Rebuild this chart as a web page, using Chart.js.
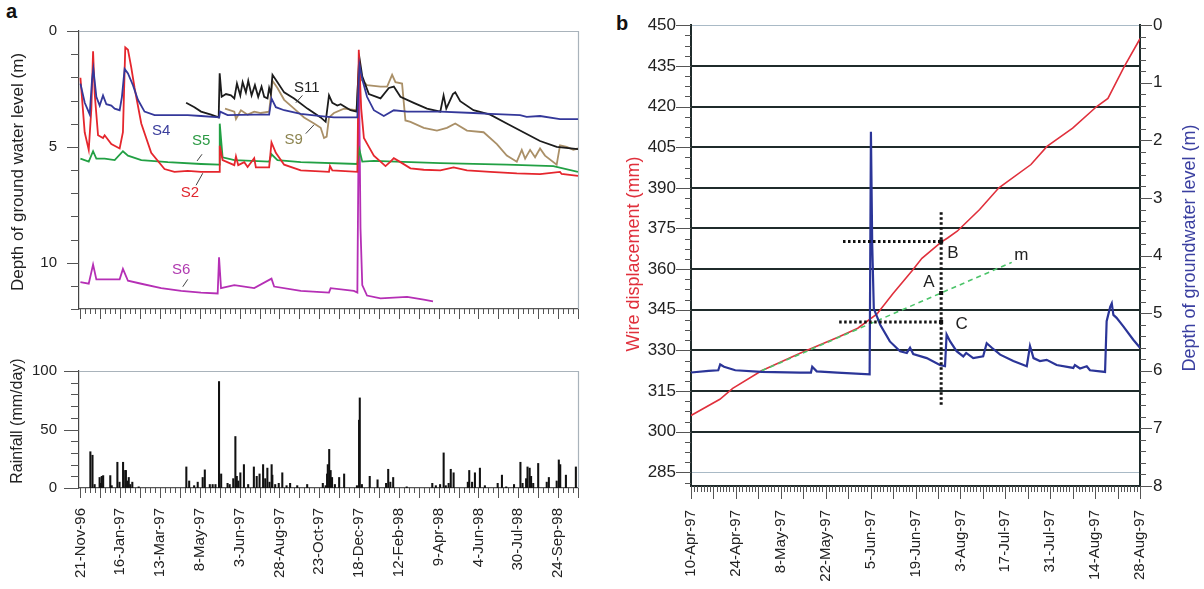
<!DOCTYPE html>
<html>
<head>
<meta charset="utf-8">
<script src="https://cdn.jsdelivr.net/npm/chart.js@4.4.1/dist/chart.umd.min.js"></script>
<style>
  body { margin: 0; background: #fff; width: 1204px; height: 589px; overflow: hidden; position: relative; font-family: "Liberation Sans", Arial, sans-serif; }
  canvas { position: absolute; }
  .panel { position: absolute; font-weight: bold; font-size: 20px; color: #111; }
</style>
</head>
<body>
<div class="panel" style="left:6px;top:0px">a</div>
<div class="panel" style="left:616px;top:12px">b</div>
<canvas id="gw" width="600" height="340" style="left:0;top:0"></canvas>
<canvas id="rain" width="600" height="249" style="left:0;top:340px"></canvas>
<canvas id="wire" width="604" height="589" style="left:600px;top:0"></canvas>
<script>
// ---- panel a: days counted from 21-Nov-96 ----
var dateLabelsA = ['21-Nov-96', '16-Jan-97', '13-Mar-97', '8-May-97', '3-Jun-97', '28-Aug-97', '23-Oct-97',
                   '18-Dec-97', '12-Feb-98', '9-Apr-98', '4-Jun-98', '30-Jul-98', '24-Sep-98'];
var dateDaysA = [0, 56, 112, 168, 224, 280, 336, 392, 448, 504, 560, 616, 672];

var s2Day = [0,6,11.7,15.4,17.8,20.1,24.8,31.8,34.1,43.5,55.2,59.8,63.1,66.9,71.5,76.2,85.6,99.6,118.3,132.3,151,169.7,195.2,196,200,216.5,218.8,222,230.5,235.2,244.5,246.8,265.5,268.8,274.9,286.6,310,349.7,351.1,354.4,389.6,391.6,395,398.8,405.8,412.8,422.2,429.2,436.2,440.9,450.2,464.3,483,506.3,525,543.8,576.5,613.9,646.6,674.7,677,700];
var s2Depth = [2.02,4.37,5.13,3.35,0.88,2.72,4.5,4.62,4.5,4.88,5.07,4.37,0.71,0.81,1.57,2.46,3.99,5.26,5.96,6.08,6.04,6.08,6.08,4.95,5.57,5.79,5.41,5.79,5.66,5.87,5.49,5.89,5.89,4.81,5.26,5.77,6.02,6.08,5.83,6.02,6.08,0.81,3.35,4.62,5.0,5.38,5.64,5.83,5.64,5.49,5.66,5.93,5.99,6.02,5.89,6.02,6.08,6.15,6.18,6.08,6.17,6.25];

var s4Day = [0,6.1,13.1,16.4,18.2,22.4,27.1,31.8,36.5,43.5,48.2,55.2,58.4,62.2,66.9,73.9,80.9,90.2,104.3,123,151,169.7,195.2,196.5,207.1,244.5,265.5,268.8,274.9,286.6,310,338,356.7,389.6,392.5,396.5,403.2,412.8,426.8,440.9,459.6,506.3,553,576.5,618.5,627.8,646.6,674.7,700];
var s4Depth = [2.27,3.1,3.6,2.08,1.64,2.84,3.22,2.78,3.16,3.22,3.35,3.42,2.84,1.64,1.83,2.34,2.97,3.48,3.63,3.63,3.63,3.67,3.73,3.48,3.63,3.61,3.61,2.91,3.29,3.42,3.58,3.67,3.73,3.73,1.45,2.08,2.84,3.42,3.67,3.42,3.48,3.48,3.54,3.58,3.63,3.71,3.67,3.8,3.8];

var s5Day = [0,11.7,17.8,22.4,34.1,48.2,59.8,66.9,85.6,123,169.7,195.2,196,200,216.5,265.5,268.8,277.2,310,389.6,392.5,396.5,412.8,506.3,599.8,665.3,700];
var s5Depth = [5.51,5.64,5.19,5.51,5.51,5.57,5.19,5.38,5.57,5.66,5.74,5.77,4.0,5.45,5.57,5.64,5.32,5.57,5.66,5.74,5.13,5.64,5.61,5.7,5.77,5.83,6.08];

var s6Day = [0,11.7,17.8,22.4,29.5,55.2,59.8,66.9,85.6,113.6,141.7,169.7,193.1,195,197.8,216.5,244.5,268.8,272.5,310,349.7,352,384.7,389.6,392,394,396.5,403.2,422.2,459.6,483,496];
var s6Depth = [10.84,10.91,10.08,10.72,10.72,10.72,10.27,10.78,10.91,11.1,11.22,11.29,11.33,9.77,11.1,10.97,11.1,10.69,11.03,11.22,11.29,11.1,11.22,11.29,2.1,8.5,10.97,11.42,11.54,11.48,11.6,11.67];

var s11Day = [148.7,160.4,169.7,183.7,194.5,195.9,198.7,204.8,211.8,216.5,220.2,224.9,228.2,232.8,236.1,240.8,245.5,250.1,254.8,258.5,263.2,265.5,267.9,270.2,277.2,286.6,300.6,319.3,338,345,349.7,354.4,361.4,366.1,373.1,380.1,388.5,391.8,392.7,396.5,405.8,422.2,433.9,440.9,450.2,468.9,487.6,506.3,510.9,514.7,524,527.3,534.3,553,576.5,599.8,623.2,646.6,670,700];
var s11Depth = [3.1,3.29,3.48,3.61,3.73,1.83,2.84,2.72,2.78,2.91,2.27,2.78,2.21,2.65,2.15,2.78,2.34,2.84,2.4,2.84,2.91,2.46,2.72,1.89,2.21,2.65,2.91,3.35,3.73,3.92,2.78,3.1,3.22,3.16,3.29,3.42,3.48,1.38,1.19,1.96,2.72,2.91,2.46,2.4,2.84,3.1,3.35,3.48,2.78,3.35,2.72,2.65,3.03,3.42,3.61,3.99,4.37,4.75,5.0,5.1];

var s9Day = [203.4,216.5,218.8,225.8,235.2,244.5,253.9,265.5,270.2,277.2,286.6,300.6,314.6,328.7,338,342.7,346.4,349.7,356.7,370.7,388.5,391.8,394.1,403.2,422.2,431.5,438.5,443.2,452.5,457.2,464.3,483,501.6,515.6,527.3,543.8,567.2,585.9,599.8,613.9,620.9,625.6,632.6,639.6,646.6,653.6,670,674.7,684.1,693.4,700];
var s9Depth = [3.35,3.48,3.8,3.42,3.61,3.48,3.54,3.48,2.15,2.46,2.97,3.35,3.73,3.99,4.18,4.62,4.56,3.73,3.54,3.35,3.42,1.45,2.08,2.34,2.4,2.4,1.89,2.21,2.27,3.86,3.92,4.18,4.3,4.18,3.99,4.3,4.37,4.88,5.38,5.64,5.13,5.51,5.13,5.45,5.07,5.38,5.77,4.94,5.0,5.13,5.07];

var rainDay = [14,17,20,27,29,30,32,42,44,52,55,60,63,64,66,68,70,73,82,149,153,160,165,172,175,182,186,190,195,198,207,210,215,218,220,222,225,230,236,244,248,252,257,260,263,266,269,270,274,279,284,290,295,305,319,341,345,347,348,350,352,354,358,364,371,389,392,393,396,407,418,430,433,436,440,459,495,500,506,511,514,518,521,525,545,547,551,555,562,569,587,593,599,610,619,622,627,629,632,634,637,644,656,659,670,673,675,683,697];
var rainMm = [31,28,3,9,4,10,10.6,10.6,2,22,5,22,15,15,6,9,3,5,1,18,6,2,5,9,15.5,3,3,3,91,12,4,3,8,44,10,6,13,20,3,18,10,12,20,8,17,5,20,11,3,4,13,2,4,2,3,4,2,12,20,33,15,9,3,9,12,2,58,77,3,10,7,4,16,5,9,1,4,2,3,30,2,4,16,13,5,15,5,13,17,2,4,11,1,3,22,4,8,18,17,10,4,21,5,9,6,24,20,11,18];

// tags on the groundwater plot: text position and leader line, in days / metres
var tagText = ['S4', 'S5', 'S2', 'S6', 'S11', 'S9'];
var tagDay = [113.6, 169.7, 154, 141.6, 318.4, 300];
var tagDepth = [4.3, 4.76, 6.97, 10.29, 2.44, 4.69];
var tagLead = [null, [171.1, 5.32, 164.1, 5.61], [162.7, 6.66, 172.1, 6.14], [151, 10.72, 144, 11.04],
               [312.3, 2.78, 303, 3.1], [317, 4.43, 328.6, 4.05]];
var tagColor = ['#3a3d9c', '#2c9a44', '#e0262e', '#b03ab0', '#222222', '#8c8450'];

// ---- panel b: days counted from 10-Apr-97 ----
var dateLabelsB = ['10-Apr-97', '24-Apr-97', '8-May-97', '22-May-97', '5-Jun-97', '19-Jun-97', '3-Aug-97',
                   '17-Jul-97', '31-Jul-97', '14-Aug-97', '28-Aug-97'];
var dateDaysB = [0, 14, 28, 42, 56, 70, 84, 98, 112, 126, 140];
var wireTicks = [285, 300, 315, 330, 345, 360, 375, 390, 405, 420, 435, 450];
var depthTicks = [0, 1, 2, 3, 4, 5, 6, 7, 8];

var wireDay = [0, 9, 13, 22, 34, 46, 52, 58, 63, 69, 72, 78, 80, 83, 90, 96, 106, 111, 119, 126.5, 130, 135, 140];
var wireMm = [306, 312, 316, 322.5, 329, 335, 338.2, 343.5, 351, 359.5, 364, 370, 371.5, 374, 382, 390, 398.6, 405.3, 412, 420, 423, 434.5, 445];

var gwDay = [0,5.5,8.5,9.1,10.3,13.8,22,34,37.4,37.8,39.2,45.6,55.7,56.1,56.5,57,59,62,65.2,67.3,68.3,69.3,73.5,77.6,79.2,79.7,80.8,82.8,84.9,85.8,88,91.1,92.2,93.8,96.4,100.5,104.7,105.7,106.8,108.8,110.9,114,119.2,119.7,121.3,123.4,124.4,129.1,129.6,130.7,131.2,131.7,132.7,134.8,137.9,140];
var gwDepth = [6.03,6.0,5.99,5.89,5.93,5.99,6.02,6.03,6.03,5.93,6.01,6.03,6.06,1.85,3.8,4.92,5.2,5.49,5.66,5.69,5.6,5.71,5.78,5.9,5.92,5.37,5.49,5.66,5.75,5.69,5.78,5.75,5.52,5.6,5.72,5.83,5.92,5.57,5.78,5.83,5.81,5.9,5.95,5.9,5.96,5.92,5.99,6.02,5.14,4.89,4.83,5.03,5.08,5.23,5.46,5.6];

var trendDay = [22, 100];
var trendMm = [322.5, 362.5];
var cutDay = 78;
var levelB = 370.2, levelA = 351.2, levelC = 340.5;
var markText = ['B', 'A', 'C', 'm'];
var markDay = [81.7, 74.2, 84.4, 103];
var markMm = [365.7, 355.3, 339.5, 365];

Chart.defaults.font.family = '"Liberation Sans", Arial, sans-serif';
Chart.defaults.color = '#222';

function pts(xs, ys) {
  return xs.map(function(x, i) { return { x: x, y: ys[i] }; });
}

function fixTicks(values) {
  return function(scale) { scale.ticks = values.map(function(v) { return { value: v }; }); };
}

// short tick marks pointing out of the plot area
function marks(chart, scale, from, to, step, len, color) {
  var ctx = chart.ctx, area = chart.chartArea;
  ctx.save();
  ctx.strokeStyle = color || '#555';
  ctx.lineWidth = 1;
  ctx.beginPath();
  for (var v = from; v <= to + 1e-6; v += step) {
    var p = Math.round(scale.getPixelForValue(v)) + 0.5;
    if (scale.isHorizontal()) {
      ctx.moveTo(p, area.bottom); ctx.lineTo(p, area.bottom + len);
    } else if (scale.position === 'left') {
      ctx.moveTo(area.left, p); ctx.lineTo(area.left - len, p);
    } else {
      ctx.moveTo(area.right, p); ctx.lineTo(area.right + len, p);
    }
  }
  ctx.stroke();
  ctx.restore();
}

function vtext(ctx, text, x, y, size, color) {
  ctx.save();
  ctx.translate(x, y);
  ctx.rotate(-Math.PI / 2);
  ctx.font = size + 'px "Liberation Sans", Arial, sans-serif';
  ctx.fillStyle = color;
  ctx.textAlign = 'center';
  ctx.textBaseline = 'middle';
  ctx.fillText(text, 0, 0);
  ctx.restore();
}

function lightFrame(chart) {
  var ctx = chart.ctx, a = chart.chartArea;
  ctx.save();
  ctx.strokeStyle = '#a9b3bb';
  ctx.lineWidth = 1.2;
  ctx.beginPath();
  ctx.moveTo(a.left, a.top + 0.5); ctx.lineTo(a.right + 0.5, a.top + 0.5); ctx.lineTo(a.right + 0.5, a.bottom);
  ctx.stroke();
  ctx.restore();
}

function line(label, xs, ys, color, extra) {
  var ds = { label: label, data: pts(xs, ys), borderColor: color, borderWidth: 1.8, pointRadius: 0, tension: 0, fill: false };
  for (var k in extra) ds[k] = extra[k];
  return ds;
}

var dayAxisA = {
  type: 'linear', min: -2, max: 700,
  grid: { display: false, drawTicks: false },
  border: { color: '#555', width: 1.2 }
};

// groundwater depth at the piezometers
new Chart(document.getElementById('gw'), {
  type: 'line',
  data: {
    datasets: [
      line('S4', s4Day, s4Depth, '#34389a'),
      line('S2', s2Day, s2Depth, '#e5262d'),
      line('S5', s5Day, s5Depth, '#22a044'),
      line('S6', s6Day, s6Depth, '#b52fb5'),
      line('S11', s11Day, s11Depth, '#1c1c1c'),
      line('S9', s9Day, s9Depth, '#aa9068')
    ]
  },
  options: {
    responsive: false, animation: false, events: [],
    layout: { padding: { top: 12, right: 22, left: 0, bottom: 0 } },
    plugins: { legend: { display: false }, tooltip: { enabled: false } },
    scales: {
      x: Object.assign({}, dayAxisA, { ticks: { display: false }, afterFit: function(s) { s.height = 13; } }),
      y: {
        reverse: true, min: 0, max: 12,
        afterBuildTicks: fixTicks([0, 5, 10]),
        ticks: { font: { size: 15 }, padding: 22 },
        grid: { display: false, drawTicks: false },
        border: { color: '#444', width: 1.2 },
        afterFit: function(s) { s.width = 79; }
      }
    }
  },
  plugins: [{
    id: 'gwExtras',
    beforeDatasetsDraw: function(chart) { lightFrame(chart); },
    afterDatasetsDraw: function(chart) {
      var ctx = chart.ctx, x = chart.scales.x, y = chart.scales.y;
      marks(chart, y, 0, 12, 1, 8, '#555');
      marks(chart, y, 0, 10, 5, 12, '#555');
      marks(chart, x, 0, 700, 7, 5, '#555');
      marks(chart, x, 0, 700, 28, 10, '#555');
      ctx.save();
      ctx.font = '15px "Liberation Sans", Arial, sans-serif';
      ctx.textAlign = 'center';
      ctx.textBaseline = 'middle';
      for (var i = 0; i < tagText.length; i++) {
        ctx.fillStyle = tagColor[i];
        ctx.fillText(tagText[i], x.getPixelForValue(tagDay[i]), y.getPixelForValue(tagDepth[i]));
        var l = tagLead[i];
        if (l) {
          ctx.strokeStyle = '#444';
          ctx.lineWidth = 1;
          ctx.beginPath();
          ctx.moveTo(x.getPixelForValue(l[0]), y.getPixelForValue(l[1]));
          ctx.lineTo(x.getPixelForValue(l[2]), y.getPixelForValue(l[3]));
          ctx.stroke();
        }
      }
      ctx.restore();
      vtext(ctx, 'Depth of ground water level (m)', 18, 172, 17, '#222');
    }
  }]
});

// daily rainfall
new Chart(document.getElementById('rain'), {
  type: 'bar',
  data: {
    datasets: [{
      label: 'Rainfall', data: pts(rainDay, rainMm),
      backgroundColor: '#111', borderWidth: 0, barThickness: 1.4, grouped: false
    }]
  },
  options: {
    responsive: false, animation: false, events: [],
    layout: { padding: { top: 12, right: 22, left: 0, bottom: 0 } },
    plugins: { legend: { display: false }, tooltip: { enabled: false } },
    scales: {
      x: Object.assign({}, dayAxisA, {
        offset: false,
        afterBuildTicks: fixTicks(dateDaysA),
        ticks: {
          autoSkip: false, minRotation: 90, maxRotation: 90, padding: 20, font: { size: 15 },
          callback: function(v) { return dateLabelsA[dateDaysA.indexOf(v)]; }
        },
        afterFit: function(s) { s.height = 101; }
      }),
      y: {
        min: 0, max: 100,
        afterBuildTicks: fixTicks([0, 50, 100]),
        ticks: { font: { size: 15 }, padding: 22 },
        grid: { display: false, drawTicks: false },
        border: { color: '#444', width: 1.2 },
        afterFit: function(s) { s.width = 79; }
      }
    }
  },
  plugins: [{
    id: 'rainExtras',
    beforeDatasetsDraw: function(chart) { lightFrame(chart); },
    afterDraw: function(chart) {
      var x = chart.scales.x, y = chart.scales.y;
      marks(chart, y, 0, 100, 10, 8, '#555');
      marks(chart, y, 0, 100, 50, 15, '#555');
      marks(chart, x, 0, 700, 7, 5, '#555');
      marks(chart, x, 0, 700, 28, 10, '#555');
      vtext(chart.ctx, 'Rainfall (mm/day)', 18, 81, 16, '#222');
    }
  }]
});

// wire extensometer against groundwater depth
function isEdge(c) { return c.tick && (c.tick.value === 285 || c.tick.value === 450); }
var dotted = { borderColor: '#111', borderWidth: 3, borderDash: [2.5, 2.5], yAxisID: 'y' };

new Chart(document.getElementById('wire'), {
  type: 'line',
  data: {
    datasets: [
      line('B level', [47.4, cutDay], [levelB, levelB], '#111', dotted),
      line('C level', [46.2, cutDay], [levelC, levelC], '#111', dotted),
      line('Section', [cutDay, cutDay], [310, 381], '#111', dotted),
      line('Depth of groundwater', gwDay, gwDepth, '#2b3598', { borderWidth: 2.2, yAxisID: 'y2' }),
      line('Trend m', trendDay, trendMm, '#4cc46a', { borderWidth: 1.6, borderDash: [5, 4], yAxisID: 'y' }),
      line('Wire displacement', wireDay, wireMm, '#e0303c', { borderWidth: 1.6, yAxisID: 'y' })
    ]
  },
  options: {
    responsive: false, animation: false, events: [],
    layout: { padding: { top: 21, right: 0, left: 0, bottom: 0 } },
    plugins: { legend: { display: false }, tooltip: { enabled: false } },
    scales: {
      x: {
        type: 'linear', min: 0, max: 140,
        afterBuildTicks: fixTicks(dateDaysB),
        ticks: {
          autoSkip: false, minRotation: 90, maxRotation: 90, padding: 24, font: { size: 15 },
          callback: function(v) { return dateLabelsB[dateDaysB.indexOf(v)]; }
        },
        grid: { display: false, drawTicks: false },
        border: { color: '#1f2b2b', width: 2 },
        afterFit: function(s) { s.height = 103; }
      },
      y: {
        position: 'left', min: 280, max: 450,
        afterBuildTicks: fixTicks(wireTicks),
        ticks: { font: { size: 17 }, padding: 15 },
        grid: {
          drawTicks: false,
          color: function(c) { return isEdge(c) ? '#a9bac6' : '#1f2b2b'; },
          lineWidth: function(c) { return isEdge(c) ? 1 : 2; }
        },
        border: { color: '#1f2b2b', width: 2 },
        afterFit: function(s) { s.width = 91; }
      },
      y2: {
        position: 'right', reverse: true, min: 0, max: 8,
        afterBuildTicks: fixTicks(depthTicks),
        ticks: { font: { size: 17 }, padding: 13 },
        grid: { drawOnChartArea: false, drawTicks: false },
        border: { color: '#1f2b2b', width: 2 },
        afterFit: function(s) { s.width = 64; }
      }
    }
  },
  plugins: [{
    id: 'wireExtras',
    afterDraw: function(chart) {
      var ctx = chart.ctx, x = chart.scales.x, y = chart.scales.y, y2 = chart.scales.y2;
      marks(chart, y, 281.25, 450, 3.75, 6, '#555');
      marks(chart, y, 285, 450, 15, 15, '#555');
      marks(chart, y2, 0, 8, 0.2, 6, '#555');
      marks(chart, y2, 0, 8, 1, 12, '#555');
      marks(chart, x, 0, 140, 1, 6, '#555');
      marks(chart, x, 0, 140, 7, 13, '#555');
      ctx.save();
      ctx.font = '17px "Liberation Sans", Arial, sans-serif';
      ctx.fillStyle = '#222';
      ctx.textAlign = 'center';
      ctx.textBaseline = 'middle';
      for (var i = 0; i < markText.length; i++) {
        ctx.fillText(markText[i], x.getPixelForValue(markDay[i]), y.getPixelForValue(markMm[i]));
      }
      ctx.fillStyle = '#111';
      [levelB, levelA, levelC].forEach(function(v) {
        ctx.fillRect(x.getPixelForValue(cutDay) - 2, y.getPixelForValue(v) - 2, 4, 4);
      });
      ctx.restore();
      vtext(ctx, 'Wire displacement (mm)', 34, 254, 18, '#e0303c');
      vtext(ctx, 'Depth of groundwater level (m)', 590, 248, 18, '#3a3fa0');
    }
  }]
});
</script>
</body>
</html>
